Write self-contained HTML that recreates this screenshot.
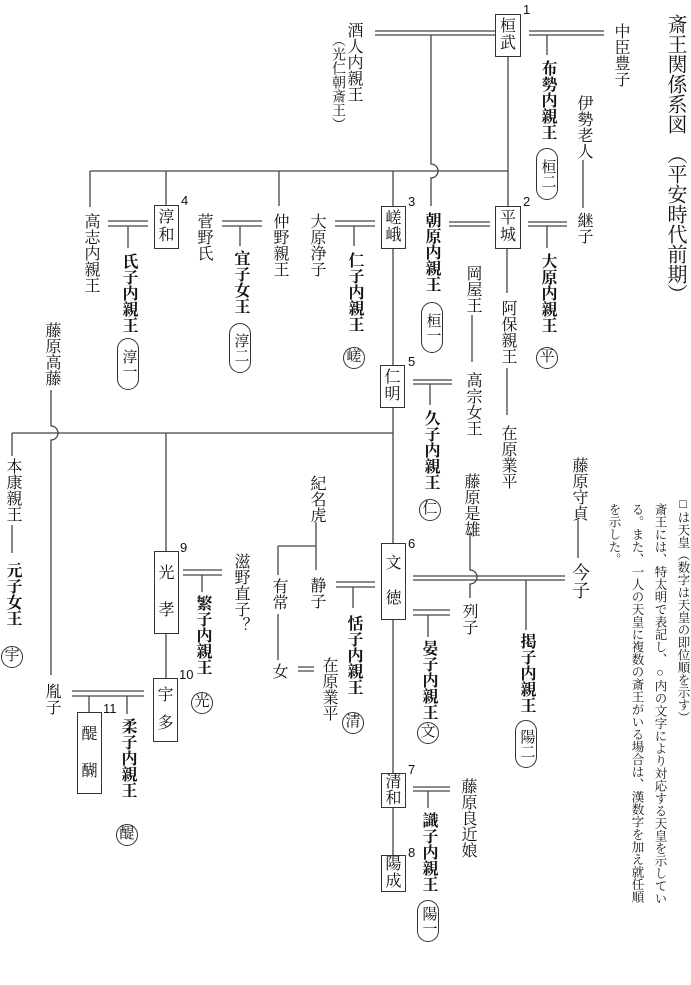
<!DOCTYPE html>
<html><head><meta charset="utf-8">
<style>
html,body{margin:0;padding:0;background:#fff;}
body{width:691px;height:985px;position:relative;overflow:hidden;font-family:"Liberation Serif","Noto Serif CJK SC","Noto Sans CJK JP",serif;color:#111;}
.t{position:absolute;writing-mode:vertical-rl;font-size:16px;line-height:16px;width:16px;white-space:nowrap;}
.b{font-weight:bold;}
.box{position:absolute;border:1.4px solid #333;box-sizing:border-box;display:flex;flex-direction:column;align-items:center;justify-content:space-around;font-size:16px;line-height:16px;padding:3px 0;}
.pill{position:absolute;width:22px;border:1.3px solid #333;border-radius:11px;box-sizing:border-box;writing-mode:vertical-rl;font-size:15px;line-height:19px;display:flex;align-items:center;justify-content:center;}
.cir{position:absolute;width:22px;height:22px;border:1.3px solid #333;border-radius:50%;box-sizing:border-box;font-size:15px;line-height:19px;text-align:center;}
.n{position:absolute;font-family:"Liberation Sans",sans-serif;font-size:13px;line-height:13px;}
.note{position:absolute;writing-mode:vertical-rl;font-size:12.5px;line-height:14px;white-space:nowrap;}
svg{position:absolute;left:0;top:0;}
</style></head><body>
<svg width="691" height="985" fill="none" stroke="#444" stroke-width="1.3">
<path d="M375 31H495M375 35H495M529 31H604M529 35H604M547 35V55"/>
<path d="M431 35V164A7 7 0 0 1 431 178V206"/>
<path d="M90 171H508M508 57V206M393 171V206M279 171V206M166 171V205M90 171V207"/>
<path d="M449 222H490M449 226H490M528 222H567M528 226H567M547 226V248M583 160V208"/>
<path d="M335 221H375M335 226H375M354 226V246"/>
<path d="M222 221H262M222 226H262M240 226V246"/>
<path d="M108 221H148M108 226H148M128 226V248"/>
<path d="M393 249V365M413 380H452M413 384H452M430 384V405M393 408V543"/>
<path d="M12 433H393M12 433V456M12 525V553M166 433V551"/>
<path d="M51 390V426A7 7 0 0 1 51 440V675"/>
<path d="M472 315V362M507 249V293M507 368V415"/>
<path d="M183 570H222M183 575H222M202 575V592M166 634V678"/>
<path d="M72 691H144M72 696H144M89 696V712M127 696V714"/>
<path d="M316 522V570M278 546H316M278 546V575M278 614V660M298 667H314M298 671H314"/>
<path d="M336 582H375M336 587H375M353 587V608"/>
<path d="M413 576H565M413 580H565M470 533V570A7 7 0 0 1 470 584V598M526 580V630M578 520V558"/>
<path d="M413 610H450M413 615H450M428 615V637M393 620V773"/>
<path d="M413 787H450M413 791H450M428 791V808M393 808V855"/>
</svg>

<div class="t" style="left:665px;top:14px;font-size:20px;line-height:20px;width:20px;">斎王関係系図　（平安時代前期）</div>

<div class="note" style="left:676px;top:497px;">□は天皇（数字は天皇の即位順を示す）</div>
<div class="note" style="left:653px;top:503px;">斎王には、特太明で表記し、○内の文字により対応する天皇を示してい</div>
<div class="note" style="left:630px;top:503px;">る。また、一人の天皇に複数の斎王がいる場合は、漢数字を加え就任順</div>
<div class="note" style="left:607px;top:503px;">を示した。</div>

<div class="box" style="left:495px;top:14px;width:26px;height:43px;"><span>桓</span><span>武</span></div><div class="n" style="left:523px;top:3px;">1</div>
<div class="box" style="left:495px;top:206px;width:26px;height:43px;"><span>平</span><span>城</span></div><div class="n" style="left:523px;top:195px;">2</div>
<div class="box" style="left:381px;top:206px;width:25px;height:43px;"><span>嵯</span><span>峨</span></div><div class="n" style="left:408px;top:195px;">3</div>
<div class="box" style="left:154px;top:205px;width:25px;height:44px;"><span>淳</span><span>和</span></div><div class="n" style="left:181px;top:194px;">4</div>
<div class="box" style="left:380px;top:365px;width:25px;height:43px;"><span>仁</span><span>明</span></div><div class="n" style="left:408px;top:355px;">5</div>
<div class="box" style="left:381px;top:543px;width:25px;height:77px;"><span>文</span><span>徳</span></div><div class="n" style="left:408px;top:537px;">6</div>
<div class="box" style="left:381px;top:773px;width:25px;height:35px;padding:1px 0;"><span>清</span><span>和</span></div><div class="n" style="left:408px;top:763px;">7</div>
<div class="box" style="left:381px;top:855px;width:25px;height:37px;padding:1px 0;"><span>陽</span><span>成</span></div><div class="n" style="left:408px;top:846px;">8</div>
<div class="box" style="left:154px;top:551px;width:25px;height:83px;"><span>光</span><span>孝</span></div><div class="n" style="left:180px;top:541px;">9</div>
<div class="box" style="left:153px;top:678px;width:25px;height:64px;"><span>宇</span><span>多</span></div><div class="n" style="left:179px;top:668px;">10</div>
<div class="box" style="left:77px;top:712px;width:25px;height:82px;"><span>醍</span><span>醐</span></div><div class="n" style="left:103px;top:702px;">11</div>

<div class="t" style="left:345px;top:22px;">酒人内親王</div>
<div class="t" style="left:330px;top:33px;font-size:14px;line-height:13.5px;width:14px;">（光仁朝斎王）</div>
<div class="t" style="left:612px;top:23px;">中臣豊子</div>
<div class="t b" style="left:539px;top:60px;">布勢内親王</div>
<div class="pill" style="left:536px;top:148px;height:52px;">桓二</div>
<div class="t" style="left:575px;top:95px;">伊勢老人</div>
<div class="t" style="left:575px;top:212px;">継子</div>
<div class="t b" style="left:423px;top:212px;">朝原内親王</div>
<div class="pill" style="left:421px;top:302px;height:51px;">桓一</div>
<div class="t b" style="left:539px;top:253px;">大原内親王</div>
<div class="cir" style="left:536px;top:347px;">平</div>
<div class="t" style="left:464px;top:265px;">岡屋王</div>
<div class="t" style="left:464px;top:372px;">高宗女王</div>
<div class="t" style="left:499px;top:300px;">阿保親王</div>
<div class="t" style="left:499px;top:425px;">在原業平</div>
<div class="t b" style="left:346px;top:252px;">仁子内親王</div>
<div class="cir" style="left:343px;top:347px;">嵯</div>
<div class="t" style="left:308px;top:213px;">大原浄子</div>
<div class="t" style="left:271px;top:213px;">仲野親王</div>
<div class="t b" style="left:232px;top:250px;">宜子女王</div>
<div class="pill" style="left:229px;top:323px;height:50px;">淳二</div>
<div class="t" style="left:195px;top:213px;">菅野氏</div>
<div class="t b" style="left:120px;top:253px;">氏子内親王</div>
<div class="pill" style="left:117px;top:338px;height:52px;">淳一</div>
<div class="t" style="left:82px;top:213px;">高志内親王</div>
<div class="t" style="left:43px;top:322px;">藤原高藤</div>
<div class="t" style="left:4px;top:458px;">本康親王</div>
<div class="t b" style="left:4px;top:562px;">元子女王</div>
<div class="cir" style="left:1px;top:646px;">宇</div>
<div class="t" style="left:43px;top:683px;">胤子</div>
<div class="t b" style="left:119px;top:718px;">柔子内親王</div>
<div class="cir" style="left:116px;top:824px;">醍</div>
<div class="t b" style="left:194px;top:595px;">繁子内親王</div>
<div class="cir" style="left:191px;top:692px;">光</div>
<div class="t" style="left:232px;top:553px;">滋野直子？</div>
<div class="t" style="left:308px;top:475px;">紀名虎</div>
<div class="t" style="left:270px;top:578px;">有常</div>
<div class="t" style="left:270px;top:663px;">女</div>
<div class="t" style="left:308px;top:577px;">静子</div>
<div class="t" style="left:320px;top:657px;">在原業平</div>
<div class="t b" style="left:345px;top:615px;">恬子内親王</div>
<div class="cir" style="left:342px;top:712px;">清</div>
<div class="t b" style="left:422px;top:410px;">久子内親王</div>
<div class="cir" style="left:419px;top:499px;">仁</div>
<div class="t" style="left:570px;top:457px;">藤原守貞</div>
<div class="t" style="left:571px;top:563px;font-size:18px;line-height:18px;width:18px;">今子</div>
<div class="t" style="left:462px;top:473px;">藤原是雄</div>
<div class="t" style="left:460px;top:603px;">列子</div>
<div class="t b" style="left:518px;top:633px;">掲子内親王</div>
<div class="pill" style="left:515px;top:720px;height:48px;">陽二</div>
<div class="t b" style="left:420px;top:640px;">晏子内親王</div>
<div class="cir" style="left:417px;top:722px;">文</div>
<div class="t" style="left:459px;top:778px;">藤原良近娘</div>
<div class="t b" style="left:420px;top:812px;">識子内親王</div>
<div class="pill" style="left:417px;top:900px;height:42px;">陽一</div>
</body></html>
